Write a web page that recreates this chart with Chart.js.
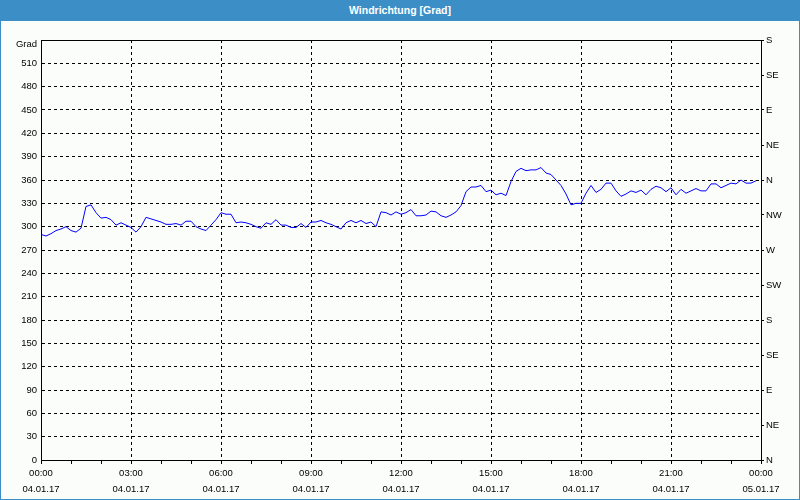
<!DOCTYPE html>
<html>
<head>
<meta charset="utf-8">
<script src="https://cdn.jsdelivr.net/npm/chart.js@4/dist/chart.umd.min.js"></script>
<style>
  html, body { margin: 0; padding: 0; background: #fbfdfb; }
  #wrap { position: relative; width: 800px; height: 500px; background: #fbfdfb; overflow: hidden; }
  #titlebar { position: absolute; left: 0; top: 0; width: 800px; height: 21px; background: #3c8fc6;
    color: #ffffff; font: bold 10.5px "Liberation Sans", Arial, sans-serif; text-align: center; line-height: 20px; }
  #frame { position: absolute; left: 0; top: 21px; width: 798px; height: 478px; border: 1px solid #3c8fc6; border-top: none; }
  #grad { position: absolute; left: 0; top: 38px; width: 37px; text-align: right; font: 9.5px "Liberation Sans", Arial, sans-serif; color: #000; line-height: 12px; }
  canvas { position: absolute; left: 0; top: 0; }
</style>
</head>
<body>
<div id="wrap">
  <div id="titlebar">Windrichtung [Grad]</div>
  <div id="frame"></div>
  <canvas id="c" width="800" height="500"></canvas>
  <div id="grad">Grad</div>
</div>
<script>
// Wind direction (degrees), one value every 10 minutes from 04.01.17 00:00 to 23:50
const stepMinutes = 10;
const windDirection = [
  290,288,291,295,297,300,295,293,298,326,
  328,318,311,312,309,302,305,302,299,293,
  300,312,310,308,306,303,303,304,302,307,
  307,300,297,295,302,309,318,316,316,305,
  306,305,303,300,298,305,303,309,302,302,
  299,299,304,299,306,306,308,305,303,300,
  297,305,308,305,308,304,306,300,319,318,
  315,319,316,318,322,314,314,315,320,319,
  314,312,315,319,327,345,351,351,353,345,
  347,341,343,340,358,371,375,372,373,373,
  376,369,367,360,353,342,328,330,330,343,
  353,344,348,356,356,346,339,342,346,344,
  347,341,348,352,350,345,350,341,348,343,
  346,349,346,346,355,355,350,353,356,355,
  360,356,356,359
];
const xTickTimes = ['00:00','03:00','06:00','09:00','12:00','15:00','18:00','21:00','00:00'];
const xTickDates = ['04.01.17','04.01.17','04.01.17','04.01.17','04.01.17','04.01.17','04.01.17','04.01.17','05.01.17'];
const compassLabels = ['N','NE','E','SE','S','SW','W','NW','N','NE','E','SE','S'];

const points = windDirection.map((v, i) => ({ x: i * stepMinutes / 60, y: v }));
const FONT = { family: '"Liberation Sans", Arial, sans-serif', size: 9.5 };

const framePlugin = {
  id: 'frameBox',
  afterDraw(chart) {
    const a = chart.chartArea, ctx = chart.ctx;
    ctx.save();
    ctx.strokeStyle = '#000';
    ctx.lineWidth = 1;
    ctx.setLineDash([]);
    ctx.strokeRect(Math.round(a.left) + 0.5, Math.round(a.top) + 0.5, Math.round(a.right - a.left), Math.round(a.bottom - a.top));
    ctx.restore();
  }
};

new Chart(document.getElementById('c'), {
  type: 'line',
  data: {
    datasets: [{
      data: points,
      borderColor: '#0000ff',
      borderWidth: 1,
      pointRadius: 0,
      tension: 0,
      fill: false,
      yAxisID: 'y'
    }]
  },
  options: {
    responsive: false,
    animation: false,
    layout: { padding: { left: 0, top: 40, right: 0, bottom: 0 } },
    plugins: { legend: { display: false }, title: { display: false }, tooltip: { enabled: false } },
    scales: {
      x: {
        type: 'linear',
        min: 0, max: 24,
        afterFit(s) { s.height = 40; },
        ticks: {
          stepSize: 1, autoSkip: false, maxRotation: 0, maxTicksLimit: 100,
          padding: 1, color: '#000',
          font: { ...FONT, lineHeight: 16 / 9.5 },
          callback(v) { return v % 3 === 0 ? [xTickTimes[v / 3], xTickDates[v / 3]] : ''; }
        },
        grid: {
          color: (ctx) => (ctx.tick && ctx.tick.value % 3 === 0) ? '#000' : 'rgba(0,0,0,0)',
          tickColor: '#000', tickLength: 4, lineWidth: 1, drawTicks: true
        },
        border: { display: true, color: '#000', width: 1, dash: [3, 3] }
      },
      y: {
        type: 'linear', position: 'left',
        min: 0, max: 540,
        afterFit(s) { s.width = 41; },
        ticks: {
          stepSize: 30, autoSkip: false, maxTicksLimit: 100, padding: 4, color: '#000', font: FONT,
          callback(v) { return v === 540 ? '' : String(v); }
        },
        grid: { color: '#000', lineWidth: 1, drawTicks: false },
        border: { display: true, color: '#000', width: 1, dash: [3, 3] }
      },
      y2: {
        type: 'linear', position: 'right',
        min: 0, max: 540,
        afterFit(s) { s.width = 39; },
        ticks: {
          stepSize: 45, autoSkip: false, maxTicksLimit: 100, padding: 2, color: '#000', font: FONT,
          callback(v) { return compassLabels[Math.round(v / 45)]; }
        },
        grid: { drawOnChartArea: false, drawTicks: true, tickLength: 3, tickColor: '#000', color: '#000' },
        border: { display: true, color: '#000', width: 1 }
      }
    }
  },
  plugins: [framePlugin]
});
</script>
</body>
</html>
